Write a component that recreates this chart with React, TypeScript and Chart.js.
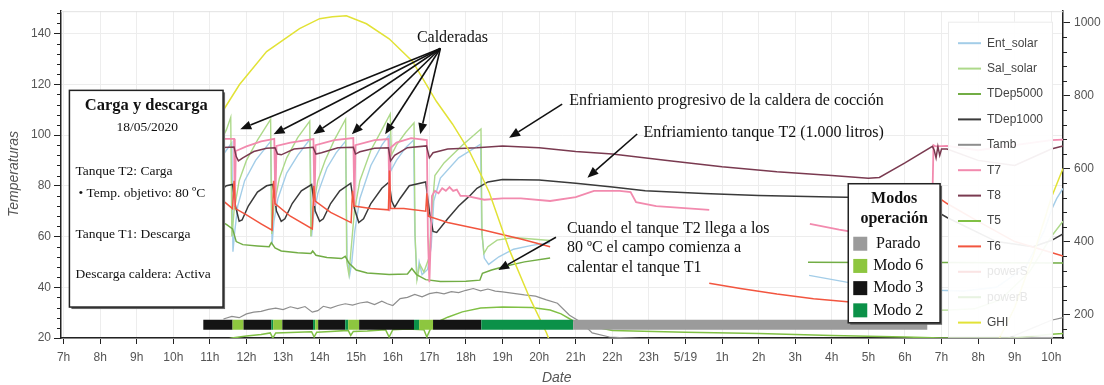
import React, { useEffect, useRef } from 'react';
import { Chart, registerables } from 'chart.js';

Chart.register(...registerables);

type Pt = [number, number | null];

// ---- axis ticks ----
const xTickHours = [7, 8, 9, 10, 11, 12, 13, 14, 15, 16, 17, 18, 19, 20, 21, 22, 23, 24, 25, 26, 27, 28, 29, 30, 31, 32, 33, 34];
const xTickLabels = ['7h', '8h', '9h', '10h', '11h', '12h', '13h', '14h', '15h', '16h', '17h', '18h', '19h', '20h', '21h', '22h', '23h', '5/19', '1h', '2h', '3h', '4h', '5h', '6h', '7h', '8h', '9h', '10h'];

// ---- series (hour of day, value) ----
const entSolar: Pt[] = [[11.2, 89], [11.45, 94], [11.6, 97], [11.63, 54], [11.68, 62], [11.76, 72], [11.95, 82], [12.25, 90], [12.66, 97.5], [12.7, 57], [12.75, 66], [12.86, 75], [13.1, 85], [13.4, 92], [13.74, 98.4], [13.78, 60], [13.83, 68], [13.95, 77], [14.2, 87], [14.45, 93], [14.71, 97.6], [14.75, 52], [14.82, 44.7], [14.88, 50], [14.96, 62], [15.1, 75], [15.4, 88], [15.7, 96], [15.9, 100], [15.95, 86], [16.1, 90], [16.35, 95], [16.57, 98], [16.6, 62], [16.66, 42.7], [16.72, 50], [16.8, 45], [16.95, 47], [17.05, 56], [17.12, 74], [17.3, 83], [17.8, 91], [18.4, 96.4], [18.43, 62], [18.5, 51.5], [18.62, 49], [18.9, 52], [19.3, 55], [19.8, 56.5], [20.3, 57.6], [20.35, null], [27.38, 44.7], [28.4, 42], [29.5, 40], [30.9, 38.8], [31.6, 38.5], [32.5, 40], [33.3, 48], [33.8, 62], [34.02, 71], [34.15, 75], [34.32, 79]];
const salSolar: Pt[] = [[11.2, 95], [11.45, 102], [11.57, 107], [11.6, 60], [11.66, 70], [11.8, 82], [12.0, 90], [12.3, 98], [12.66, 106.2], [12.69, 61], [12.75, 72], [12.9, 83], [13.1, 91], [13.4, 99], [13.73, 105.5], [13.76, 60], [13.82, 71], [13.95, 82], [14.15, 90], [14.4, 98], [14.71, 106.2], [14.74, 50], [14.8, 45], [14.86, 55], [14.95, 70], [15.1, 82], [15.4, 94], [15.7, 102], [15.93, 108.3], [15.96, 92], [16.1, 96], [16.35, 101], [16.58, 104.8], [16.61, 60], [16.66, 43], [16.74, 49], [16.85, 46], [17.0, 52], [17.08, 72], [17.15, 84], [17.4, 89], [17.9, 96], [18.41, 102.4], [18.44, 61], [18.49, 53.3], [18.6, 56], [18.85, 58.6], [19.3, 59.6], [20.3, 58.4], [20.35, null], [30.55, 31], [31.15, 31], [31.9, 31.5], [32.6, 35], [33.4, 46], [34.0, 60], [34.32, 66]];
const tDep5000: Pt[] = [[11.2, 66.5], [11.45, 64.8], [11.62, 63], [11.72, 58], [11.9, 56.8], [12.3, 56.3], [12.62, 56], [12.68, 57.6], [12.78, 55.5], [12.95, 54.3], [13.4, 53.6], [13.76, 53.3], [13.81, 54.3], [13.9, 52.6], [14.2, 51.7], [14.6, 51.3], [14.7, 52.2], [14.8, 49.5], [15.0, 46.8], [15.3, 45.6], [15.9, 45], [16.4, 45.2], [16.52, 47.4], [16.65, 45], [16.9, 43], [17.3, 42.3], [18.0, 42.4], [18.38, 42.8], [18.45, 45.5], [18.7, 46.8], [19.1, 48.4], [19.6, 50], [20.3, 51.5], [20.35, null], [27.35, 49.9], [29.0, 49.8], [31.15, 49.8], [32.5, 49.7], [34.32, 49.6]];
const tDep1000: Pt[] = [[11.2, 77], [11.45, 80], [11.62, 80.5], [11.7, 72], [11.8, 66], [11.88, 66.5], [12.05, 72], [12.3, 77.5], [12.55, 80], [12.72, 80.5], [12.82, 70], [12.95, 66], [13.05, 67], [13.25, 73], [13.5, 78], [13.78, 80.5], [13.88, 70], [14.0, 66], [14.1, 67], [14.3, 73], [14.55, 78], [14.85, 81], [14.95, 71], [15.07, 65.5], [15.2, 67], [15.4, 73], [15.7, 79], [15.9, 81.5], [15.97, 74], [16.05, 71.5], [16.2, 75], [16.45, 80], [16.9, 81.5], [17.0, 70], [17.1, 62], [17.2, 61.6], [17.5, 67], [17.8, 72], [18.1, 76], [18.3, 79], [18.6, 81.5], [19.0, 82.5], [20.0, 82.3], [21.0, 81], [22.0, 79.5], [22.9, 78], [24.5, 77], [26.0, 76.2], [28.0, 75.6], [29.2, 75.3], [30.5, 74.8], [30.75, 73], [30.85, 70], [31.15, 67.5], [32.5, 58], [33.5, 56], [34.0, 58.4], [34.32, 61]];
const tAmb: Pt[] = [[11.37, 27.5], [11.6, 28.5], [11.8, 28], [12.0, 29.5], [12.2, 30.2], [12.4, 30.5], [12.6, 31.3], [12.8, 31.8], [13.0, 31.2], [13.2, 32.3], [13.4, 31.6], [13.6, 32.4], [13.8, 30.2], [13.95, 30.8], [14.1, 32.5], [14.3, 31.8], [14.5, 32.8], [14.7, 33.5], [14.9, 33], [15.1, 33.8], [15.3, 34.2], [15.5, 33.2], [15.7, 34.5], [15.85, 33.5], [16.0, 32.8], [16.2, 35.5], [16.4, 36], [16.6, 37.2], [16.8, 36.2], [17.0, 37.5], [17.2, 38], [17.4, 37.4], [17.6, 38.3], [17.8, 37.9], [18.0, 38.8], [18.2, 39.5], [18.4, 38.6], [18.6, 39.3], [18.8, 38.5], [19.0, 38.2], [19.3, 37.6], [19.6, 37], [19.9, 36.5], [20.2, 35], [20.5, 33.7], [20.83, 29], [21.18, 25.9], [21.45, 22], [21.92, 20.4], [22.5, 20], [24.0, 18.5], [28.0, 16], [31.0, 15], [32.5, 18], [33.5, 24], [34.0, 27], [34.32, 28]];
const t7: Pt[] = [[11.2, 98.5], [11.66, 98.5], [11.68, 72], [11.71, 93.7], [12.0, 95.5], [12.4, 97.5], [12.76, 98.5], [12.79, 72], [12.82, 95.7], [13.2, 97], [13.83, 98.4], [13.86, 72], [13.89, 96], [14.4, 98], [14.92, 98.8], [14.95, 72], [14.98, 96], [15.5, 98], [15.88, 98.4], [15.91, 70], [15.94, 95], [16.1, 97], [16.5, 98.8], [16.93, 98], [16.96, 60], [17.0, 42], [17.04, 60], [17.07, 76], [17.15, 78], [17.25, 77], [17.35, 79], [17.45, 78], [17.55, 79.5], [17.65, 78], [17.75, 78.5], [17.85, 76], [18.0, 76], [18.5, 74.5], [19.0, 75], [19.5, 75], [20.3, 74], [21.0, 75.5], [21.5, 78], [22.2, 78], [22.5, 77.5], [22.65, 73.5], [23.2, 72], [24.65, 70.5], [24.7, null], [27.4, 65], [28.2, 62.7], [28.9, 61], [30.0, 63], [30.75, 75], [30.78, 96], [30.85, 95.5], [31.15, 95.7], [32.0, 94], [33.0, 96], [34.0, 98], [34.32, 98.2]];
const t8: Pt[] = [[11.2, 95], [11.66, 95.3], [11.72, 91.5], [11.78, 89.8], [11.9, 91], [12.2, 93.5], [12.55, 94.8], [12.78, 95], [12.85, 92.5], [12.95, 92.2], [13.3, 94.5], [13.82, 95.2], [13.9, 92.5], [14.05, 93], [14.5, 95], [14.92, 95.2], [14.98, 92.5], [15.1, 93.4], [15.5, 94.8], [15.88, 95], [15.94, 89.8], [16.05, 92], [16.4, 95], [16.92, 95.7], [17.0, 91], [17.1, 93], [17.5, 94.5], [18.3, 95], [19.0, 95.7], [20.0, 95], [21.0, 93.5], [22.0, 92.5], [23.5, 90], [25.0, 87.5], [26.5, 85.5], [28.0, 84], [29.0, 83], [29.3, 83.3], [30.0, 89], [30.75, 95.5], [30.8, 94], [30.85, 91], [30.9, 95.5], [30.95, 92], [31.0, 94.5], [31.15, 94.5], [32.0, 90], [33.0, 88], [34.0, 94.5], [34.32, 95.7]];
const t5: Pt[] = [[11.35, 19], [11.6, 20], [12.0, 20.8], [12.4, 21.4], [12.65, 22], [12.72, 20], [12.8, 22], [13.2, 22.2], [13.78, 22.5], [13.85, 20.4], [13.92, 22.3], [14.3, 22.6], [14.78, 23], [14.85, 21], [14.92, 22.6], [15.3, 22.8], [15.8, 23.3], [15.9, 20.4], [16.0, 23.3], [16.4, 23.5], [16.85, 23.3], [16.93, 20.4], [17.05, 24.3], [17.25, 26.5], [17.5, 28.2], [17.9, 30.3], [18.4, 31.8], [19.0, 32.2], [19.8, 32], [20.3, 31], [20.6, 29.5], [20.9, 27], [21.3, 25], [22.0, 23], [24.0, 22.3], [26.0, 21.8], [28.0, 21], [30.0, 20.4], [31.0, 20], [33.0, 20], [34.0, 21.5], [34.32, 21.8]];
const t6: Pt[] = [[11.2, 76], [11.62, 71], [11.66, 82], [11.7, 71], [12.0, 68.5], [12.4, 65], [12.7, 62.5], [12.74, 82], [12.78, 73], [13.2, 68], [13.8, 63], [13.84, 80], [13.88, 74], [14.3, 69.5], [14.86, 65.5], [14.9, 78], [14.94, 72], [15.4, 71], [15.88, 70.5], [15.91, 86], [15.94, 71], [16.3, 71], [16.9, 70], [16.93, 77], [16.97, 68], [17.5, 65.5], [18.5, 62.5], [19.5, 59], [20.3, 56], [20.35, null], [24.65, 41.6], [25.5, 39.5], [26.5, 37.3], [27.5, 35.5], [28.5, 34.2], [29.5, 33.8], [30.6, 33.5], [30.72, 80], [30.85, 76], [31.15, 73], [32.0, 66], [33.0, 58], [34.0, 53.7], [34.32, 52.3]];
const powerS: Pt[] = [];
const powerB: Pt[] = [];
const ghi: Pt[] = [[10.5, 640], [11.0, 705], [11.32, 752], [11.81, 830], [12.55, 920], [13.45, 983], [14.0, 1010], [14.35, 1015], [14.73, 1018], [15.28, 996], [15.9, 955], [16.54, 893], [17.19, 784], [17.63, 722], [18.09, 648], [18.45, 575], [18.64, 534], [19.19, 377], [19.73, 249], [20.2, 151], [20.3, 125], [20.35, null], [32.5, 120], [33.0, 220], [33.5, 360], [34.0, 520], [34.32, 600]];

// ---- operating modes bar ----
const modeStarts = [10.82, 11.62, 11.92, 12.68, 12.73, 12.98, 13.82, 13.88, 13.96, 14.7, 14.78, 15.08, 16.58, 16.72, 17.1, 18.42, 20.93];
const modeEnd = 30.61;
const modeNames = ['Modo 3', 'Modo 6', 'Modo 3', 'Modo 2', 'Modo 6', 'Modo 3', 'Modo 2', 'Modo 6', 'Modo 3', 'Modo 2', 'Modo 6', 'Modo 3', 'Modo 2', 'Modo 6', 'Modo 3', 'Modo 2', 'Parado'];
const modeBarLevel = 25.2;
const modeLegend = ['Parado', 'Modo 6', 'Modo 3', 'Modo 2'];
const modeColors: Record<string, string> = { 'Parado': '#9b9b9b', 'Modo 6': '#8dc63f', 'Modo 3': '#141414', 'Modo 2': '#0b9148' };

// ---- series definitions ----
const seriesDefs = [
  { label: 'Ent_solar', data: entSolar, color: '#a3cde8', axis: 'y', width: 1.4 },
  { label: 'Sal_solar', data: salSolar, color: '#add98a', axis: 'y', width: 1.4 },
  { label: 'TDep5000', data: tDep5000, color: '#72ad45', axis: 'y', width: 1.5 },
  { label: 'TDep1000', data: tDep1000, color: '#3a3a3a', axis: 'y', width: 1.5 },
  { label: 'Tamb', data: tAmb, color: '#8e8e8e', axis: 'y', width: 1.2 },
  { label: 'T7', data: t7, color: '#f28aae', axis: 'y', width: 1.8 },
  { label: 'T8', data: t8, color: '#7a3a50', axis: 'y', width: 1.5 },
  { label: 'T5', data: t5, color: '#80c045', axis: 'y', width: 1.5 },
  { label: 'T6', data: t6, color: '#f2553f', axis: 'y', width: 1.5 },
  { label: 'powerS', data: powerS, color: '#f6caca', axis: 'y1', width: 1.2, hidden: true },
  { label: 'powerB', data: powerB, color: '#d2e8c4', axis: 'y1', width: 1.2, hidden: true },
  { label: 'GHI', data: ghi, color: '#e2e236', axis: 'y1', width: 1.5 },
];

// ---- annotations (data coordinates: hour, temperature) ----
const calderadasText = { h: 17.63, t: 138.4, text: 'Calderadas' };
const calderadasFrom: [number, number] = [17.3, 134.1];
const calderadasTips: [number, number][] = [[11.83, 102.3], [12.74, 100.3], [13.83, 100.3], [14.88, 100.3], [15.79, 100.3], [16.75, 100.3]];
const notes = [
  { lines: ['Enfriamiento progresivo de la caldera de cocción'], h: 20.82, t: 113.4, from: [20.63, 112.2], to: [19.18, 98.9] },
  { lines: ['Enfriamiento tanque T2 (1.000 litros)'], h: 22.85, t: 100.8, from: [22.68, 100.4], to: [21.32, 83.2] },
  { lines: ['Cuando el tanque T2 llega a los', '80 ºC el campo comienza a', 'calentar el tanque T1'], h: 20.76, t: 63.2, from: [20.46, 59.7], to: [18.88, 46.8] },
];
const infoBox = { h0: 7.16, h1: 11.36, t0: 117.6, t1: 32.2 };
const infoTitle = 'Carga y descarga';
const infoDate = '18/05/2020';
const infoLines = ['Tanque T2: Carga', '• Temp. objetivo: 80 ºC', 'Tanque T1: Descarga', 'Descarga caldera: Activa'];
const modeBox = { h0: 28.45, h1: 30.96, t0: 80.8, t1: 26.0 };

const SERIF = '"Liberation Serif", "DejaVu Serif", serif';
const SANS = '"Liberation Sans", Arial, sans-serif';

function arrow(ctx: CanvasRenderingContext2D, x0: number, y0: number, x1: number, y1: number) {
  const ang = Math.atan2(y1 - y0, x1 - x0);
  const hl = 11, hw = 4.5;
  const bx = x1 - hl * Math.cos(ang), by = y1 - hl * Math.sin(ang);
  ctx.beginPath(); ctx.moveTo(x0, y0); ctx.lineTo(bx, by); ctx.stroke();
  ctx.beginPath(); ctx.moveTo(x1, y1);
  ctx.lineTo(bx + hw * Math.sin(ang), by - hw * Math.cos(ang));
  ctx.lineTo(bx - hw * Math.sin(ang), by + hw * Math.cos(ang));
  ctx.closePath(); ctx.fill();
}

function shadowBox(ctx: CanvasRenderingContext2D, x: number, y: number, w: number, h: number) {
  ctx.fillStyle = '#666';
  ctx.fillRect(x + 2, y + 2, w, h);
  ctx.fillStyle = '#fff';
  ctx.fillRect(x, y, w, h);
  ctx.strokeStyle = '#222';
  ctx.lineWidth = 1.5;
  ctx.strokeRect(x, y, w, h);
}

const overlayPlugin = {
  id: 'overlay',
  afterDatasetsDraw(chart: any) {
    const ctx: CanvasRenderingContext2D = chart.ctx;
    const X = (h: number) => chart.scales.x.getPixelForValue(h);
    const Y = (t: number) => chart.scales.y.getPixelForValue(t);
    const area = chart.chartArea;
    ctx.save();

    // top border of plot
    ctx.strokeStyle = '#e2e2e2'; ctx.lineWidth = 1;
    ctx.beginPath(); ctx.moveTo(area.left, area.top + 0.5); ctx.lineTo(area.right, area.top + 0.5); ctx.stroke();

    // minor ticks
    ctx.strokeStyle = '#222'; ctx.lineWidth = 1;
    const ys = chart.scales.y;
    for (let v = 24; v <= ys.max; v += 4) {
      if (v % 20 === 0) continue;
      const p = Math.round(ys.getPixelForValue(v)) + 0.5;
      ctx.beginPath(); ctx.moveTo(area.left - 4, p); ctx.lineTo(area.left, p); ctx.stroke();
    }
    const y1 = chart.scales.y1;
    for (let v = 160; v <= y1.max; v += 40) {
      if (v % 200 === 0) continue;
      const p = Math.round(y1.getPixelForValue(v)) + 0.5;
      ctx.beginPath(); ctx.moveTo(area.right, p); ctx.lineTo(area.right + 4, p); ctx.stroke();
    }

    // axis titles
    ctx.fillStyle = '#555';
    ctx.font = `italic 14px ${SANS}`;
    ctx.textAlign = 'center'; ctx.textBaseline = 'middle';
    ctx.save(); ctx.translate(14, 174); ctx.rotate(-Math.PI / 2); ctx.fillText('Temperaturas', 0, 0); ctx.restore();
    ctx.fillText('Date', X(20.48), 378);

    // floating legend
    const lx = area.right - 115, ly = area.top + 10.5, lw = 104, lh = 315;
    ctx.fillStyle = 'rgba(255,255,255,0.93)';
    ctx.fillRect(lx, ly, lw, lh);
    ctx.strokeStyle = '#ebebeb'; ctx.lineWidth = 1;
    ctx.strokeRect(lx + 0.5, ly + 0.5, lw, lh);
    ctx.font = `12px ${SANS}`; ctx.textAlign = 'left'; ctx.textBaseline = 'middle';
    seriesDefs.forEach((s, i) => {
      const yy = ly + 21.5 + i * 25.4;
      ctx.globalAlpha = s.hidden ? 0.5 : 1;
      ctx.strokeStyle = s.color; ctx.lineWidth = 2;
      ctx.beginPath(); ctx.moveTo(lx + 10, yy); ctx.lineTo(lx + 33, yy); ctx.stroke();
      ctx.fillStyle = s.hidden ? '#cfcfcf' : '#444';
      ctx.fillText(s.label, lx + 39, yy);
      ctx.globalAlpha = 1;
    });

    // annotations
    ctx.fillStyle = '#111'; ctx.strokeStyle = '#111'; ctx.lineWidth = 1.6;
    ctx.font = `16px ${SERIF}`; ctx.textAlign = 'center'; ctx.textBaseline = 'middle';
    ctx.fillText(calderadasText.text, X(calderadasText.h), Y(calderadasText.t));
    calderadasTips.forEach(([h, t]) => arrow(ctx, X(calderadasFrom[0]), Y(calderadasFrom[1]), X(h), Y(t)));
    ctx.textAlign = 'left';
    notes.forEach((n) => {
      const x0 = X(n.h), y0 = Y(n.t);
      n.lines.forEach((line, i) => ctx.fillText(line, x0, y0 + i * 19.5));
      arrow(ctx, X(n.from[0]), Y(n.from[1]), X(n.to[0]), Y(n.to[1]));
    });

    // info box
    {
      const bx = X(infoBox.h0), by = Y(infoBox.t0);
      const bw = X(infoBox.h1) - bx, bh = Y(infoBox.t1) - by;
      shadowBox(ctx, bx, by, bw, bh);
      ctx.fillStyle = '#111';
      ctx.textAlign = 'center';
      ctx.font = `bold 16.5px ${SERIF}`;
      ctx.fillText(infoTitle, bx + bw / 2, by + 15);
      ctx.font = `13.5px ${SERIF}`;
      ctx.fillText(infoDate, bx + bw / 2 + 1, by + 37);
      ctx.textAlign = 'left';
      const offs = [81, 103, 144, 184];
      infoLines.forEach((l, i) => {
        ctx.fillText(l, bx + (i === 1 ? 9 : 6), by + offs[i]);
      });
    }

    // modes box
    {
      const bx = X(modeBox.h0), by = Y(modeBox.t0);
      const bw = X(modeBox.h1) - bx, bh = Y(modeBox.t1) - by;
      shadowBox(ctx, bx, by, bw, bh);
      ctx.fillStyle = '#111';
      ctx.textAlign = 'center';
      ctx.font = `bold 16px ${SERIF}`;
      ctx.fillText('Modos', bx + bw / 2, by + 15);
      ctx.fillText('operación', bx + bw / 2, by + 35.5);
      ctx.font = `16px ${SERIF}`;
      modeLegend.forEach((m, i) => {
        const yy = by + 60 + i * 22.2;
        ctx.fillStyle = modeColors[m];
        ctx.fillRect(bx + 5, yy - 7, 14, 14);
        ctx.fillStyle = '#111';
        ctx.fillText(m, bx + 50, yy);
      });
    }
    ctx.restore();
  },
};

export default function App() {
  const ref = useRef<HTMLCanvasElement>(null);
  useEffect(() => {
    const canvas = ref.current;
    if (!canvas) return;
    const datasets: any[] = seriesDefs.map((s, i) => ({
      label: s.label,
      data: s.data.map(([x, y]) => ({ x, y })),
      borderColor: s.color,
      backgroundColor: s.color,
      borderWidth: s.width,
      pointRadius: 0,
      tension: 0,
      spanGaps: false,
      yAxisID: s.axis,
      hidden: !!s.hidden,
      order: 100 - i,
    }));
    const barPoints = [...modeStarts, modeEnd].map((x) => ({ x, y: modeBarLevel }));
    datasets.push({
      label: 'Modos',
      data: barPoints,
      borderWidth: 10,
      borderCapStyle: 'butt',
      borderColor: '#141414',
      pointRadius: 0,
      tension: 0,
      yAxisID: 'y',
      order: 0,
      segment: { borderColor: (c: any) => modeColors[modeNames[c.p0DataIndex]] },
    });

    const tickFont = { family: 'Liberation Sans', size: 12 };
    const chart = new Chart(canvas, {
      type: 'line',
      data: { datasets },
      plugins: [overlayPlugin],
      options: {
        responsive: false,
        animation: false,
        devicePixelRatio: 1,
        parsing: true,
        layout: { padding: { top: 9.5, left: 0, right: 0, bottom: 0 } },
        plugins: { legend: { display: false }, tooltip: { enabled: false }, title: { display: false } },
        scales: {
          x: {
            type: 'linear', position: 'bottom', min: 6.93, max: 34.32,
            afterFit: (s: any) => { s.height = 47; },
            grid: { color: '#ededed', tickColor: '#222', tickLength: 6 },
            border: { color: '#222', width: 1.5 },
            ticks: {
              stepSize: 1, includeBounds: false, autoSkip: false, maxRotation: 0, padding: 6,
              color: '#555', font: tickFont,
              callback: (v: any) => { const i = xTickHours.indexOf(Number(v)); return i >= 0 ? xTickLabels[i] : ''; },
            },
          },
          y: {
            type: 'linear', position: 'left', min: 20, max: 148.8,
            afterFit: (s: any) => { s.width = 61; },
            grid: { color: '#ededed', tickColor: '#222', tickLength: 7 },
            border: { color: '#222', width: 1.5 },
            ticks: { stepSize: 20, includeBounds: false, padding: 3, color: '#555', font: tickFont, callback: (v: any) => String(v) },
          },
          y1: {
            type: 'linear', position: 'right', min: 136.7, max: 1030.4,
            afterFit: (s: any) => { s.width = 41; },
            grid: { drawOnChartArea: false, tickColor: '#222', tickLength: 7 },
            border: { color: '#222', width: 1.5 },
            ticks: { stepSize: 200, includeBounds: false, padding: 4, color: '#555', font: tickFont, callback: (v: any) => String(v) },
          },
        },
      } as any,
    });
    return () => chart.destroy();
  }, []);
  return (
    <div style={{ position: 'fixed', left: 0, top: 0, width: 1104, height: 385, background: '#fff' }}>
      <canvas ref={ref} width={1104} height={385} style={{ width: 1104, height: 385, display: 'block' }} />
    </div>
  );
}
